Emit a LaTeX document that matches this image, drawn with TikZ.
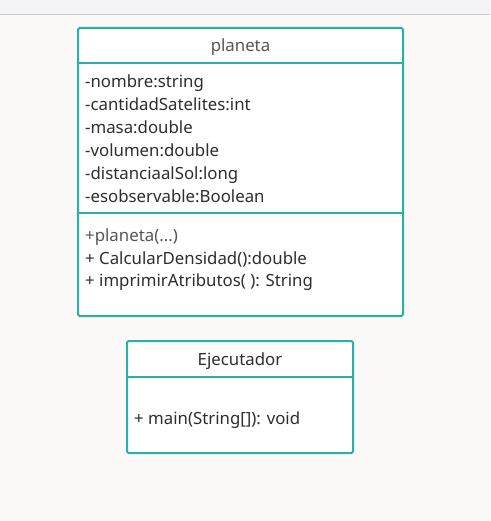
\documentclass[tikz,border=0pt]{standalone}
\usepackage{fontspec}
\setmainfont{Noto Sans}
\definecolor{teal1}{HTML}{2BB0A8}
\definecolor{bgc}{HTML}{FAF9F7}
\definecolor{topc}{HTML}{F4F4F6}
\definecolor{txt}{HTML}{2E2E2E}
\definecolor{txtl}{HTML}{555555}
\begin{document}
\begin{tikzpicture}[x=1pt,y=-1pt,
  umlbox/.style={draw=teal1,line width=2pt,fill=white,rounded corners=1.5pt,inner sep=0pt},
  sep/.style={draw=teal1,line width=2pt},
  attr/.style={anchor=west,inner sep=0pt,text height=12pt,text depth=4pt,text=txt,font=\fontsize{16.8}{20}\selectfont},
  ttl/.style={anchor=center,inner sep=0pt,text height=12pt,text depth=4pt,text=txtl,font=\fontsize{16.8}{20}\selectfont}]
\useasboundingbox (0,0) rectangle (490,521);
\fill[bgc] (0,0) rectangle (490,521);
\fill[topc] (0,0) rectangle (490,15);
\draw[gray!40,line width=1pt] (0,15) -- (490,15);
% planeta
\draw[umlbox] (78,28) coordinate (p1) rectangle (403,316) coordinate (p2);
\coordinate (pa) at (78,63); \coordinate (pb) at (403,63);
\coordinate (pc) at (78,213); \coordinate (pd) at (403,213);
\draw[sep] (pa) -- (pb);
\draw[sep] (pc) -- (pd);
\node[ttl] (ptitle) at (240.5,48) {planeta};
\node[attr] (a1) at (85,84) {-nombre:string};
\node[attr] (a2) at (85,107) {-cantidadSatelites:int};
\node[attr] (a3) at (85,130) {-masa:double};
\node[attr] (a4) at (85,153) {-volumen:double};
\node[attr] (a5) at (85,176) {-distanciaalSol:long};
\node[attr] (a6) at (85,199) {-esobservable:Boolean};
\node[attr,text=txtl] (m1) at (85,237) {+planeta(...)};
\node[attr] (m2) at (85,260) {+ CalcularDensidad():double};
\node[attr] (m3) at (85,282) {+ imprimirAtributos( ): String};
% Ejecutador
\draw[umlbox] (127,341) coordinate (e1) rectangle (353,453) coordinate (e2);
\coordinate (ea) at (127,377); \coordinate (eb) at (353,377);
\draw[sep] (ea) -- (eb);
\node[ttl,text=txt] (etitle) at (240,361) {Ejecutador};
\node[attr] (em) at (134,420) {+ main(String[]): void};
\end{tikzpicture}
\end{document}
